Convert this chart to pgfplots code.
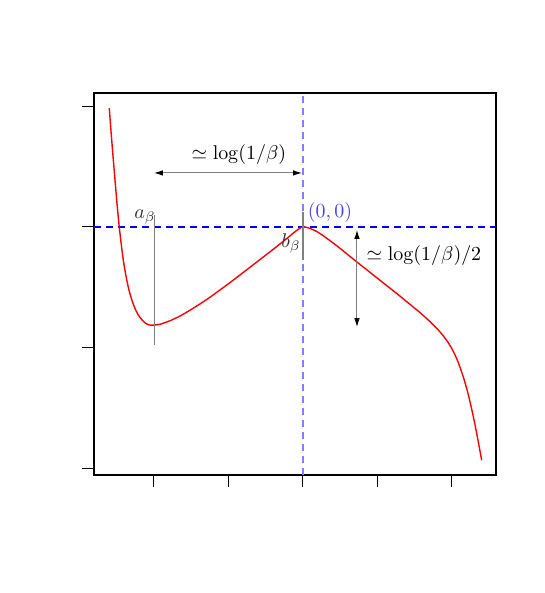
\documentclass[border=0pt]{standalone}
\usepackage{pgfplots}
\pgfplotsset{compat=1.18}
\usetikzlibrary{arrows.meta}

\begin{document}
\begin{tikzpicture}
  \begin{axis}[
    scale only axis,
    width=201bp, height=191bp,
    xmin=-2.805, xmax=2.591,
    ymin=-2.055, ymax=1.110,
    xtick={-2,-1,0,1,2}, ytick={-2,-1,0,1},
    xticklabels={}, yticklabels={},
    tick pos=left, tick align=outside,
    major tick length=6bp,
    every tick/.style={black, line width=0.5bp},
    axis line style={line width=0.6bp},
    clip=false,
  ]
    % reference lines through the local maximum
    \draw[blue!50, line width=1bp, dash pattern=on 3.5bp off 2.5bp]
      (axis cs:0,-2.055) -- (axis cs:0,1.110);
    \draw[blue, line width=1bp, dash pattern=on 3.5bp off 2.5bp]
      (axis cs:-2.805,0) -- (axis cs:2.591,0);

    % potential curve
    \addplot[red, line width=0.7bp, smooth, tension=0.4] coordinates {
      (-2.600, 0.984) (-2.577, 0.796) (-2.550, 0.588) (-2.523, 0.389)
      (-2.497, 0.199) (-2.470, 0.025) (-2.443,-0.124) (-2.412,-0.273)
      (-2.376,-0.406) (-2.336,-0.522) (-2.295,-0.609) (-2.255,-0.675)
      (-2.215,-0.725) (-2.165,-0.767) (-2.121,-0.794) (-2.077,-0.809)
      (-2.027,-0.814) (-1.919,-0.806) (-1.785,-0.777) (-1.651,-0.738)
      (-1.517,-0.690) (-1.383,-0.638) (-1.248,-0.582) (-1.114,-0.522)
      (-0.980,-0.461) (-0.846,-0.398) (-0.711,-0.334) (-0.577,-0.270)
      (-0.443,-0.206) (-0.309,-0.141) (-0.201,-0.088) (-0.121,-0.046)
      (-0.067,-0.021) (-0.027,-0.005) (0.000, 0.000) (0.040,-0.002)
      (0.094,-0.012) (0.161,-0.030) (0.228,-0.054) (0.362,-0.113)
      (0.497,-0.177) (0.631,-0.244) (0.765,-0.310) (0.899,-0.376)
      (1.034,-0.442) (1.168,-0.507) (1.302,-0.573) (1.436,-0.641)
      (1.570,-0.709) (1.705,-0.784) (1.799,-0.842) (1.879,-0.899)
      (1.946,-0.955) (2.000,-1.010) (2.054,-1.078) (2.107,-1.161)
      (2.161,-1.260) (2.215,-1.379) (2.268,-1.519) (2.309,-1.638)
      (2.349,-1.767) (2.399,-1.933)
    };

    % a_beta and b_beta markers
    \draw[gray, line width=0.5bp] (axis cs:-1.987,0.099) -- (axis cs:-1.987,-0.978);
    \draw[gray, line width=0.9bp] (axis cs:0,0.124) -- (axis cs:0,-0.273);
    \node[black!80] at (axis cs:-2.121,0.083) {$a_\beta$};
    \node[black!80] at (axis cs:-0.161,-0.133) {$b_\beta$};

    % distance arrows
    \draw[gray, line width=0.5bp,
          {Latex[black,length=4.5bp,width=2.8bp]}-{Latex[black,length=4.5bp,width=2.8bp]}]
      (axis cs:-2.0,0.4475) -- (axis cs:-0.013,0.4475);
    \draw[gray, line width=0.5bp,
          {Latex[black,length=4.5bp,width=2.8bp]}-{Latex[black,length=4.5bp,width=2.8bp]}]
      (axis cs:0.725,-0.025) -- (axis cs:0.725,-0.829);

    \node at (axis cs:-0.859,0.597) {$\simeq \log(1/\beta)$};
    \node at (axis cs:1.624,-0.240) {$\simeq \log(1/\beta)/2$};
    \node[blue!75] at (axis cs:0.362,0.116) {$(0,0)$};
  \end{axis}
  % page margins as in the reference
  \path (current axis.south west) ++(-47bp,-59bp);
  \path (current axis.north east) ++(24.5bp,46.5bp);
\end{tikzpicture}
\end{document}
